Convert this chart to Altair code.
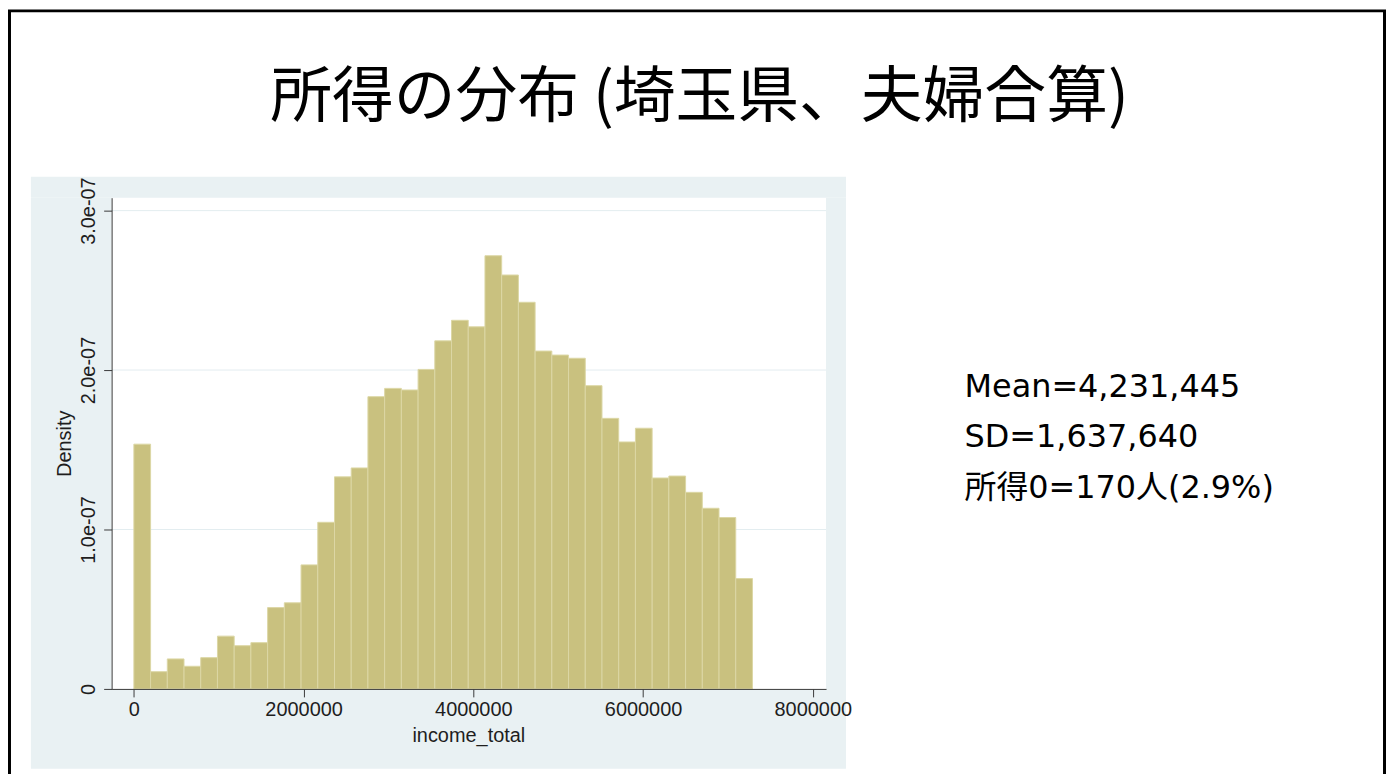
import altair as alt
import pandas as pd

# ---- data ----
bin_width = 197000
densities = [1.535e-7, 0.108e-7, 0.188e-7, 0.142e-7, 0.196e-7, 0.331e-7, 0.271e-7, 0.290e-7,
             0.510e-7, 0.540e-7, 0.778e-7, 1.045e-7, 1.330e-7, 1.386e-7, 1.833e-7, 1.885e-7,
             1.875e-7, 2.004e-7, 2.183e-7, 2.312e-7, 2.271e-7, 2.717e-7, 2.596e-7, 2.425e-7,
             2.119e-7, 2.094e-7, 2.074e-7, 1.902e-7, 1.697e-7, 1.549e-7, 1.635e-7, 1.323e-7,
             1.335e-7, 1.233e-7, 1.133e-7, 1.075e-7, 0.692e-7]
x_ticks = [0, 2000000, 4000000, 6000000, 8000000]
y_ticks = [0, 1e-7, 2e-7, 3e-7]
grid_values = [1e-7, 2e-7, 3e-7]
title_text = "所得の分布 (埼玉県、夫婦合算)"
stat_lines = ["Mean=4,231,445", "SD=1,637,640", "所得0=170人(2.9%)"]
x_title = "income_total"
y_title = "Density"

W, H = 717, 493
bars = pd.DataFrame({
    "start": [i * bin_width for i in range(len(densities))],
    "end": [(i + 1) * bin_width for i in range(len(densities))],
    "density": densities,
})
gridf = pd.DataFrame({"density": grid_values})
one = pd.DataFrame({"k": [0]})

xscale = alt.Scale(domain=[-262000, 8156000], nice=False, zero=False)
yscale = alt.Scale(domain=[0, 3.081e-7], nice=False, zero=True)

PANEL = "#E9F1F3"
AXC = "#3A3A3A"
LAB = "Liberation Sans"

y_axis = alt.Axis(values=y_ticks, title=y_title, grid=False, zindex=1,
                  labelExpr="datum.value == 0 ? '0' : format(datum.value * 1e7, '.1f') + 'e-07'",
                  domainColor=AXC, tickColor=AXC, tickSize=8,
                  labelFont=LAB, labelFontSize=20, labelColor="#1E1E1E",
                  labelAngle=270, labelAlign="center", labelBaseline="middle",
                  labelPadding=15, labelFlush=False, labelOverlap=False,
                  titleFont=LAB, titleFontSize=20, titleFontWeight="normal",
                  titleColor="#1E1E1E", titleAngle=270, titleX=-47, titleY=H / 2,
                  titleAlign="center", titleBaseline="middle")
x_axis = alt.Axis(values=x_ticks, format="d", title=x_title, grid=False,
                  zindex=1, domainColor=AXC, tickColor=AXC, tickSize=8,
                  labelFont=LAB, labelFontSize=20, labelColor="#1E1E1E",
                  labelPadding=13, labelBaseline="middle", labelFlush=False,
                  labelOverlap=False, labelAngle=0,
                  titleFont=LAB, titleFontSize=20, titleFontWeight="normal",
                  titleColor="#1E1E1E", titleX=358, titleY=47,
                  titleAlign="center", titleBaseline="middle")


def strip(x, x2, y, y2):
    return alt.Chart(one).mark_rect(fill=PANEL, stroke=None).encode(
        x=alt.value(x), x2=alt.value(x2), y=alt.value(y), y2=alt.value(y2))


panel = (strip(-81, 737, -21, 0) + strip(-81, 737, H, 573) +
         strip(-81, 0, 0, H) + strip(W, 737, 0, H))

border = alt.Chart(one).mark_rect(fill=None, stroke="#000000", strokeWidth=3).encode(
    x=alt.value(-102.5), x2=alt.value(1277.5), y=alt.value(-187.5), y2=alt.value(700))

grid = alt.Chart(gridf).mark_rule(color="#E3EDF0", strokeWidth=1).encode(
    y=alt.Y("density:Q", scale=yscale, axis=y_axis), x=alt.value(0), x2=alt.value(W))

hist = alt.Chart(bars).mark_rect(fill="#C9C17F", stroke="#DCD7A5", strokeWidth=1).encode(
    x=alt.X("start:Q", scale=xscale, axis=x_axis),
    x2="end:Q",
    y=alt.Y("density:Q", scale=yscale, axis=y_axis),
    y2=alt.datum(0),
)

title = alt.Chart(one).mark_text(
    text=title_text, font="Noto Sans CJK JP", fontSize=62, color="#000000",
    align="center", baseline="middle").encode(x=alt.value(590), y=alt.value(-100))

stats = []
for i, line in enumerate(stat_lines):
    stats.append(alt.Chart(one).mark_text(
        text=line, font="DejaVu Sans, Noto Sans CJK JP", fontSize=32, color="#000000",
        align="left", baseline="middle").encode(x=alt.value(856), y=alt.value(190 + 50.5 * i)))

chart = alt.layer(panel, border, grid, hist, title, *stats).properties(
    width=W, height=H,
    autosize=alt.AutoSizeParams(type="none"),
    padding={"left": 104, "top": 189, "right": 563, "bottom": 84},
    background="#FFFFFF",
).configure_view(stroke=None, fill="#FFFFFF")

chart.save("out.html", embed_options={"renderer": "svg", "actions": False})
